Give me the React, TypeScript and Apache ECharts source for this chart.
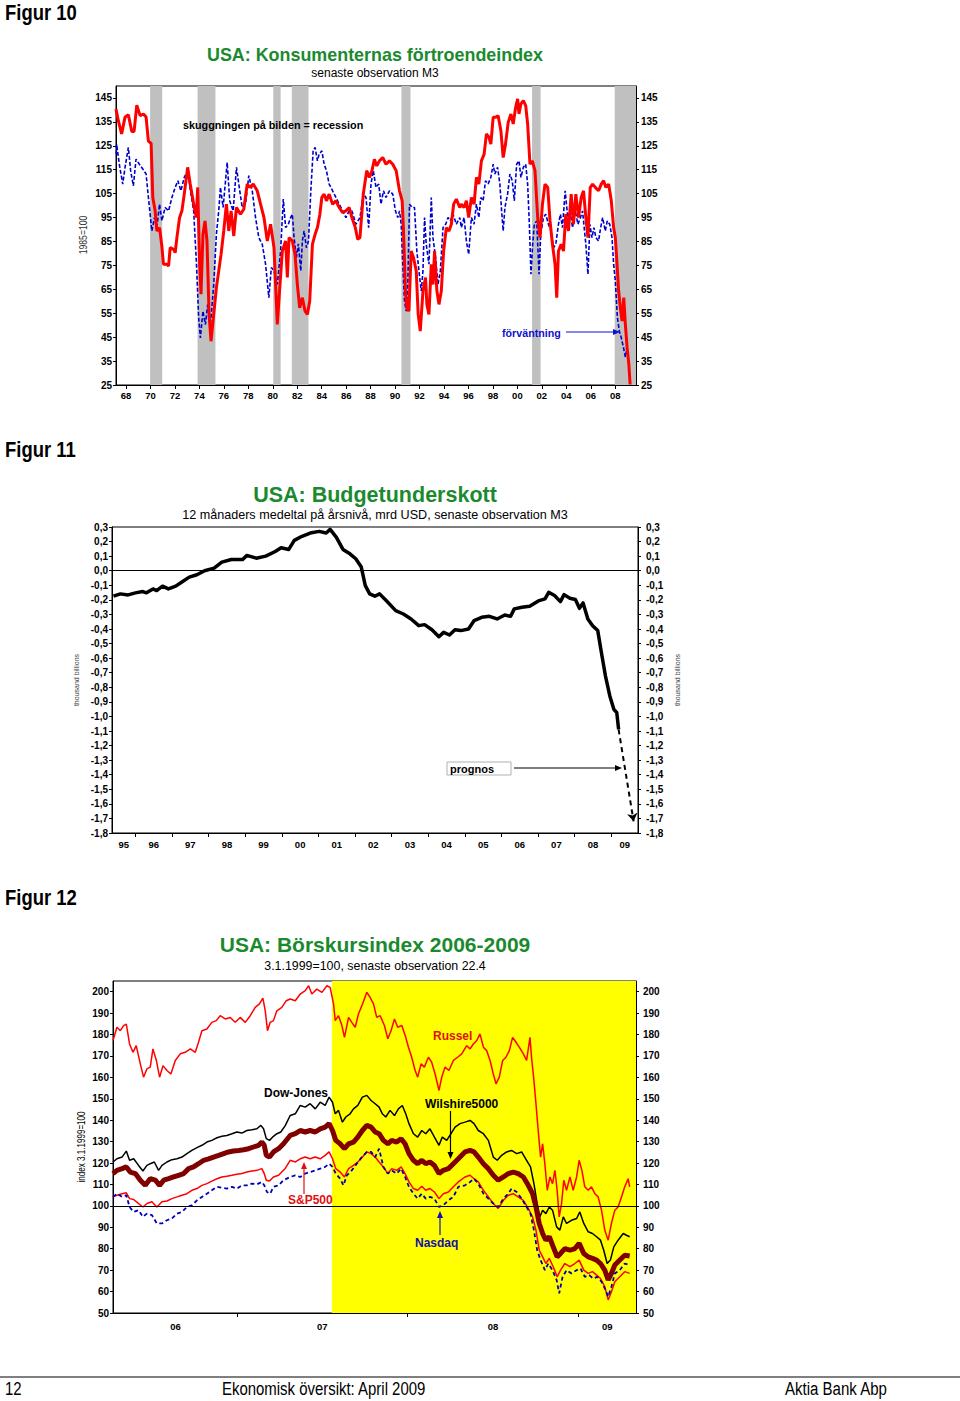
import { useEffect, useRef } from "react";
import * as echarts from "echarts";

const FONT = "'Liberation Sans', Arial, sans-serif";
const GREEN = "#1b8a2e";

// ---------- Figur 10 : consumer confidence ----------
const confYTicks = [25, 35, 45, 55, 65, 75, 85, 95, 105, 115, 125, 135, 145];
const confYearLabels = [1968, 1970, 1972, 1974, 1976, 1978, 1980, 1982, 1984, 1986, 1988, 1990, 1992, 1994, 1996, 1998, 2000, 2002, 2004, 2006, 2008];
const recessions = [
  [1969.97, 1970.96], [1973.85, 1975.31], [1980.04, 1980.64], [1981.55, 1982.92],
  [1990.52, 1991.26], [2001.2, 2001.9], [2007.96, 2009.7],
];
const confidenceIndex = [
  [1967.18, 140.4], [1967.37, 135.5], [1967.64, 130], [1967.92, 137], [1968.19, 138], [1968.47, 131], [1968.66, 131], [1968.88, 142],
  [1969.15, 137.6], [1969.42, 138.3], [1969.64, 137], [1969.83, 127], [1970.05, 126], [1970.19, 103.4], [1970.38, 97.8], [1970.52, 89.4],
  [1970.74, 90.8], [1970.93, 83], [1971.06, 75.5], [1971.34, 75.5], [1971.48, 74.7], [1971.61, 82.4], [1971.89, 81.7], [1972.02, 80.3],
  [1972.16, 86.6], [1972.38, 95], [1972.57, 97.8], [1972.76, 104.8], [1973.04, 116], [1973.25, 109], [1973.53, 100.6], [1973.75, 95],
  [1973.86, 107.6], [1974.02, 75.4], [1974.13, 63], [1974.29, 88], [1974.46, 93.6], [1974.62, 85.2], [1974.79, 54.5], [1974.95, 43.3],
  [1975.17, 54.5], [1975.39, 65.7], [1975.58, 72.7], [1975.77, 79.6], [1975.99, 89.4], [1976.21, 100.6], [1976.4, 89.4], [1976.59, 97.8],
  [1976.81, 87.3], [1977.03, 99.2], [1977.36, 96.4], [1977.63, 98.5], [1977.91, 109], [1978.13, 107.6], [1978.4, 109], [1978.73, 106.2],
  [1979.0, 100.6], [1979.28, 95], [1979.55, 85.2], [1979.82, 92.2], [1980.1, 82.4], [1980.37, 50.3], [1980.59, 67], [1980.78, 81],
  [1981.05, 85.2], [1981.19, 70], [1981.33, 86.6], [1981.6, 85.2], [1981.82, 79.6], [1982.01, 67], [1982.2, 57.3], [1982.42, 61.5],
  [1982.64, 55.9], [1982.83, 54.5], [1983.02, 60.1], [1983.24, 83.8], [1983.46, 88], [1983.65, 90.8], [1983.85, 96.4], [1984.01, 103.4],
  [1984.2, 104.8], [1984.39, 102], [1984.61, 104.8], [1984.89, 100.6], [1985.16, 102], [1985.43, 99.2], [1985.71, 97.1], [1985.98, 97.8],
  [1986.25, 99.2], [1986.47, 95], [1986.75, 90.8], [1986.94, 85.9], [1987.13, 86.6], [1987.4, 104.8], [1987.68, 114.6], [1987.9, 111.8],
  [1988.11, 114.6], [1988.31, 119.4], [1988.5, 116.6], [1988.72, 118.7], [1988.99, 120.1], [1989.26, 117.3], [1989.54, 118.7], [1989.81, 117.3],
  [1990.09, 114.6], [1990.36, 106.2], [1990.58, 102], [1990.69, 89.4], [1990.85, 64.3], [1990.96, 57.3], [1991.13, 55.9], [1991.32, 81],
  [1991.51, 78.2], [1991.73, 72.7], [1991.89, 54.5], [1992.06, 47.5], [1992.28, 64.3], [1992.49, 69.9], [1992.6, 58.7], [1992.77, 54.5],
  [1992.96, 75.5], [1993.1, 67], [1993.23, 81], [1993.42, 64.3], [1993.59, 58.7], [1993.78, 64.3], [1993.97, 81], [1994.19, 90.8],
  [1994.41, 89.4], [1994.6, 92.2], [1994.79, 100.6], [1995.01, 102.7], [1995.29, 99.2], [1995.42, 100.6], [1995.64, 99.2], [1995.83, 102],
  [1996.02, 95], [1996.24, 103.4], [1996.46, 100.6], [1996.65, 111.8], [1996.85, 109], [1997.06, 118.7], [1997.28, 121.5], [1997.47, 130],
  [1997.67, 128.6], [1997.83, 125.7], [1998.02, 136.9], [1998.21, 136.9], [1998.43, 137.6], [1998.65, 131.3], [1998.84, 120.1], [1999.03, 125.7],
  [1999.25, 134.8], [1999.47, 138.3], [1999.66, 134.1], [1999.86, 141.1], [2000.02, 144.6], [2000.13, 138.3], [2000.29, 142.5], [2000.49, 143.9],
  [2000.68, 141.8], [2000.84, 134.1], [2001.03, 117.3], [2001.22, 118.7], [2001.44, 114.6], [2001.66, 95], [2001.85, 86.6], [2002.05, 100.6],
  [2002.26, 109], [2002.48, 107.6], [2002.67, 93.6], [2002.87, 83.8], [2003.08, 75.5], [2003.22, 61.5], [2003.36, 81], [2003.58, 83.8],
  [2003.77, 81], [2003.96, 96.4], [2004.18, 89.4], [2004.4, 104.8], [2004.59, 92.2], [2004.78, 104.8], [2005.0, 95], [2005.22, 103.4],
  [2005.41, 106.2], [2005.6, 95], [2005.77, 86.6], [2005.96, 107.6], [2006.15, 109], [2006.37, 107.6], [2006.64, 106.2], [2006.86, 109],
  [2007.05, 110.4], [2007.24, 107.6], [2007.46, 109], [2007.68, 102], [2007.87, 90.8], [2008.01, 86.6], [2008.15, 75.5], [2008.28, 64.3],
  [2008.42, 57.3], [2008.56, 51.7], [2008.7, 61.5], [2008.83, 50.3], [2008.97, 40.8], [2009.11, 33.9], [2009.22, 25.2],
];
const expectationsIndex = [
  [1967.2, 121.5], [1967.23, 125.7], [1967.45, 117.3], [1967.73, 109], [1967.92, 116], [1968.19, 124.3], [1968.38, 114.5], [1968.6, 108.3],
  [1968.82, 119.4], [1969.09, 117.3], [1969.37, 115.3], [1969.64, 113.2], [1969.83, 103.4], [1970.11, 89.4], [1970.33, 95], [1970.52, 90.8],
  [1970.74, 100.6], [1970.93, 93.6], [1971.2, 99.2], [1971.48, 97.8], [1971.75, 103.4], [1972.02, 107.6], [1972.24, 110.4], [1972.49, 106.2],
  [1972.76, 111.8], [1973.04, 114.6], [1973.31, 104.8], [1973.53, 97.8], [1973.75, 76.8], [1973.94, 53.1], [1974.08, 44.7], [1974.29, 55.9],
  [1974.49, 50.3], [1974.68, 58.7], [1974.9, 50.3], [1975.17, 67], [1975.39, 88], [1975.58, 97.8], [1975.72, 107.6], [1975.94, 99.2],
  [1976.27, 118], [1976.48, 102], [1976.76, 97.8], [1977.03, 116], [1977.22, 109], [1977.5, 99.2], [1977.77, 100.6], [1978.04, 112.5],
  [1978.32, 106.2], [1978.59, 95], [1978.86, 86.6], [1979.14, 83.8], [1979.41, 75.5], [1979.68, 61.5], [1979.88, 74.1], [1980.1, 72.7],
  [1980.37, 67], [1980.64, 81], [1980.86, 102.7], [1981.05, 90.8], [1981.27, 92.2], [1981.46, 95], [1981.6, 96.4], [1981.74, 86.6],
  [1981.93, 78.2], [1982.09, 84], [1982.29, 72.7], [1982.42, 85.2], [1982.56, 89.4], [1982.75, 82.4], [1982.92, 85.2], [1983.11, 106.2],
  [1983.3, 122.9], [1983.46, 124.3], [1983.65, 118.7], [1983.79, 121.5], [1984.01, 122.9], [1984.2, 117.3], [1984.39, 114.6], [1984.61, 109],
  [1984.89, 106.2], [1985.16, 103.4], [1985.43, 100.6], [1985.71, 97.8], [1985.98, 95], [1986.25, 97.8], [1986.47, 97.8], [1986.8, 92.2],
  [1987.13, 95], [1987.4, 104.8], [1987.62, 103.4], [1987.84, 90.8], [1988.03, 109], [1988.22, 114.6], [1988.44, 107.6], [1988.66, 109],
  [1988.85, 100.6], [1989.05, 106.2], [1989.26, 103.4], [1989.54, 106.2], [1989.81, 104.8], [1990.03, 97.8], [1990.22, 95], [1990.36, 97.8],
  [1990.5, 92.2], [1990.63, 75.5], [1990.77, 60.1], [1990.91, 55.9], [1991.04, 67], [1991.18, 100.6], [1991.4, 99.2], [1991.59, 99.2],
  [1991.78, 81], [1991.95, 72.7], [1992.14, 64.3], [1992.28, 72.7], [1992.41, 95], [1992.55, 83.8], [1992.77, 75.5], [1992.96, 103.4],
  [1993.1, 86.6], [1993.31, 78.2], [1993.51, 67], [1993.7, 72.7], [1993.92, 90.8], [1994.14, 92.2], [1994.33, 95], [1994.52, 93.6],
  [1994.74, 96.4], [1995.01, 92.2], [1995.29, 95], [1995.42, 90.8], [1995.64, 95], [1995.83, 85.2], [1996.02, 79.6], [1996.24, 95],
  [1996.46, 92.2], [1996.65, 100.6], [1996.85, 95], [1997.01, 103.4], [1997.2, 102], [1997.39, 110.4], [1997.61, 109], [1997.83, 111.8],
  [1998.02, 117.3], [1998.16, 113.2], [1998.38, 116], [1998.57, 109], [1998.71, 97.8], [1998.84, 89.4], [1998.98, 99.2], [1999.2, 104.8],
  [1999.39, 113.2], [1999.58, 110.4], [1999.75, 102], [1999.94, 117.3], [2000.13, 118.7], [2000.29, 111.8], [2000.49, 116], [2000.68, 117.3],
  [2000.84, 109], [2000.98, 92.2], [2001.11, 71.3], [2001.25, 83.8], [2001.39, 92.2], [2001.58, 93.6], [2001.77, 71.3], [2001.91, 88],
  [2002.13, 95], [2002.32, 96.4], [2002.54, 92.2], [2002.76, 89.4], [2002.95, 82.4], [2003.14, 83.8], [2003.36, 92.2], [2003.52, 96.4],
  [2003.69, 90.8], [2003.91, 106.2], [2004.12, 95], [2004.32, 97.8], [2004.51, 90.8], [2004.73, 97.8], [2004.95, 92.2], [2005.16, 95],
  [2005.33, 97.8], [2005.49, 89.4], [2005.6, 83.8], [2005.77, 71.3], [2005.93, 92.2], [2006.1, 86.6], [2006.26, 90.8], [2006.42, 86.6],
  [2006.64, 85.2], [2006.81, 90.8], [2006.97, 95], [2007.19, 89.4], [2007.35, 93.6], [2007.55, 92.2], [2007.74, 86.6], [2007.87, 75.5],
  [2008.01, 68.5], [2008.18, 53.1], [2008.34, 47.5], [2008.5, 44.7], [2008.67, 40.8], [2008.83, 36.6], [2009.0, 42.2],
];

// ---------- Figur 11 : budget deficit ----------
const budgetYTicks = [-1.8, -1.7, -1.6, -1.5, -1.4, -1.3, -1.2, -1.1, -1.0, -0.9, -0.8, -0.7, -0.6, -0.5, -0.4, -0.3, -0.2, -0.1, 0.0, 0.1, 0.2, 0.3];
const budgetYearTicks = [1996, 1997, 1998, 1999, 2000, 2001, 2002, 2003, 2004, 2005, 2006, 2007, 2008, 2009];
const budgetYearLabels = [1995.68, 1996.5, 1997.5, 1998.5, 1999.5, 2000.5, 2001.5, 2002.5, 2003.5, 2004.5, 2005.5, 2006.5, 2007.5, 2008.5, 2009.37];
const budgetBalance = [
  [1995.4, -0.175], [1995.59, -0.159], [1995.8, -0.166], [1996.0, -0.152], [1996.2, -0.143], [1996.3, -0.152], [1996.48, -0.125], [1996.58, -0.136],
  [1996.74, -0.106], [1996.9, -0.125], [1997.1, -0.106], [1997.26, -0.079], [1997.47, -0.044], [1997.68, -0.028], [1997.89, 0.0], [1998.15, 0.018],
  [1998.36, 0.059], [1998.62, 0.077], [1998.93, 0.077], [1999.04, 0.105], [1999.3, 0.086], [1999.56, 0.1], [1999.82, 0.132], [1999.98, 0.158],
  [2000.19, 0.146], [2000.34, 0.208], [2000.55, 0.236], [2000.81, 0.261], [2001.02, 0.27], [2001.21, 0.259], [2001.32, 0.284], [2001.49, 0.229],
  [2001.67, 0.146], [2001.86, 0.116], [2002.02, 0.082], [2002.17, 0.025], [2002.28, -0.102], [2002.4, -0.159], [2002.54, -0.175], [2002.67, -0.159],
  [2002.85, -0.205], [2003.11, -0.274], [2003.32, -0.297], [2003.53, -0.331], [2003.74, -0.377], [2003.9, -0.37], [2004.1, -0.405], [2004.29, -0.453],
  [2004.42, -0.423], [2004.58, -0.441], [2004.73, -0.405], [2004.89, -0.411], [2005.1, -0.4], [2005.25, -0.343], [2005.46, -0.32], [2005.67, -0.313],
  [2005.88, -0.331], [2006.09, -0.304], [2006.25, -0.313], [2006.35, -0.262], [2006.56, -0.251], [2006.77, -0.244], [2007.03, -0.205], [2007.19, -0.193],
  [2007.29, -0.148], [2007.45, -0.17], [2007.61, -0.212], [2007.71, -0.164], [2007.87, -0.189], [2008.02, -0.198], [2008.13, -0.258], [2008.23, -0.221],
  [2008.36, -0.331], [2008.49, -0.377], [2008.63, -0.411], [2008.73, -0.561], [2008.84, -0.721], [2008.96, -0.859], [2009.07, -0.951], [2009.15, -0.974],
  [2009.2, -1.089],
];
const budgetForecast = [[2009.2, -1.089], [2009.61, -1.72]];

// ---------- Figur 12 : stock indices ----------
const stockYTicks = [50, 60, 70, 80, 90, 100, 110, 120, 130, 140, 150, 160, 170, 180, 190, 200];
const stockYearTicks = [2007, 2008, 2009];
const stockYearLabels = [2006.64, 2007.5, 2008.5, 2009.17];
const crisisStart = 2007.556;
const russell = [
  [2006.274, 177.2], [2006.297, 183.4], [2006.317, 181.8], [2006.336, 184.2], [2006.352, 184.9], [2006.371, 175.6], [2006.391, 171.7], [2006.41, 174.8],
  [2006.434, 166.3], [2006.453, 160.1], [2006.473, 164], [2006.492, 164.8], [2006.508, 173.3], [2006.528, 167.9], [2006.547, 160.1], [2006.567, 165.5],
  [2006.59, 163.2], [2006.613, 161.6], [2006.639, 167.9], [2006.668, 171], [2006.697, 171.7], [2006.727, 173.3], [2006.756, 171.7], [2006.775, 176.4],
  [2006.795, 181.8], [2006.824, 182.6], [2006.853, 185.7], [2006.879, 186.5], [2006.902, 188.8], [2006.932, 187.3], [2006.961, 188], [2006.99, 185.7],
  [2007.019, 188], [2007.049, 185.7], [2007.078, 188.8], [2007.107, 192.7], [2007.132, 194.3], [2007.152, 197], [2007.166, 191.1], [2007.179, 181.8],
  [2007.195, 185.7], [2007.214, 186.5], [2007.234, 191.1], [2007.263, 192.7], [2007.289, 195.8], [2007.312, 196.6], [2007.342, 195.8], [2007.371, 198.9],
  [2007.4, 200.5], [2007.42, 202.8], [2007.439, 198.9], [2007.468, 201.2], [2007.498, 199.7], [2007.527, 202.8], [2007.546, 202], [2007.566, 194.3],
  [2007.576, 186.5], [2007.595, 188.8], [2007.615, 184.2], [2007.63, 178.7], [2007.654, 188], [2007.673, 185.7], [2007.693, 183.4], [2007.712, 189.6],
  [2007.736, 194.3], [2007.761, 199.7], [2007.78, 197.4], [2007.8, 194.3], [2007.819, 188], [2007.839, 188.8], [2007.864, 184.2], [2007.884, 178],
  [2007.903, 181.8], [2007.923, 187.3], [2007.942, 183.4], [2007.966, 184.2], [2007.989, 178.7], [2008.005, 174.1], [2008.024, 169.4], [2008.044, 163.2],
  [2008.059, 160.1], [2008.079, 166.3], [2008.098, 164.8], [2008.122, 169.4], [2008.141, 167.1], [2008.161, 161.6], [2008.184, 153.9], [2008.2, 160.1],
  [2008.219, 164.8], [2008.242, 163.2], [2008.268, 167.9], [2008.293, 169.4], [2008.317, 171], [2008.346, 174.8], [2008.366, 173.3], [2008.385, 175.6],
  [2008.405, 177.2], [2008.424, 180.3], [2008.444, 174.1], [2008.463, 172.5], [2008.483, 167.9], [2008.502, 161.6], [2008.518, 157], [2008.537, 160.1],
  [2008.557, 167.9], [2008.576, 169.4], [2008.596, 172.5], [2008.615, 178.7], [2008.635, 176.4], [2008.654, 174.1], [2008.678, 171], [2008.697, 167.9],
  [2008.717, 178.7], [2008.726, 169.4], [2008.74, 158.5], [2008.752, 147.7], [2008.765, 135.2], [2008.779, 122.8], [2008.791, 129], [2008.804, 119.7],
  [2008.818, 107.3], [2008.834, 113.5], [2008.849, 110.4], [2008.863, 116.6], [2008.876, 107.3], [2008.888, 94.9], [2008.902, 101.1], [2008.915, 112],
  [2008.931, 107.3], [2008.951, 113.5], [2008.97, 107.3], [2008.99, 113.5], [2009.005, 121.3], [2009.021, 116.6], [2009.038, 108.9], [2009.058, 107.3],
  [2009.077, 108.9], [2009.097, 105.7], [2009.116, 104.2], [2009.136, 98], [2009.155, 88.7], [2009.175, 84], [2009.194, 91.8], [2009.214, 98],
  [2009.233, 99.5], [2009.253, 104.2], [2009.272, 108.9], [2009.292, 112.7], [2009.301, 108.9],
];
const dowJones = [
  [2006.274, 120.5], [2006.297, 122], [2006.327, 122.8], [2006.352, 125.6], [2006.371, 121.3], [2006.395, 122], [2006.424, 118.9], [2006.449, 116.3],
  [2006.473, 118.9], [2006.492, 119.7], [2006.516, 120.5], [2006.541, 116.6], [2006.561, 118.9], [2006.59, 120.5], [2006.619, 121.6], [2006.649, 122],
  [2006.678, 122.8], [2006.707, 124.4], [2006.736, 125.9], [2006.766, 127.2], [2006.795, 128.3], [2006.824, 129.8], [2006.853, 130.6], [2006.883, 131.8],
  [2006.912, 132.5], [2006.941, 132.9], [2006.971, 133.7], [2007.0, 134.5], [2007.029, 134], [2007.058, 135.2], [2007.088, 135.6], [2007.117, 136],
  [2007.14, 137.6], [2007.156, 136], [2007.172, 131.4], [2007.191, 130.6], [2007.214, 132.5], [2007.234, 133.7], [2007.257, 134.5], [2007.283, 137.5],
  [2007.312, 142.2], [2007.342, 143], [2007.371, 146.9], [2007.4, 146.1], [2007.429, 147.7], [2007.459, 145.3], [2007.488, 148.4], [2007.517, 146.9],
  [2007.54, 150.8], [2007.56, 148.4], [2007.576, 143], [2007.595, 144.6], [2007.618, 139.1], [2007.638, 141.5], [2007.663, 143], [2007.683, 145.3],
  [2007.708, 146.9], [2007.735, 150.8], [2007.761, 151.6], [2007.786, 149.2], [2007.81, 147.7], [2007.833, 146.1], [2007.852, 143], [2007.872, 141.5],
  [2007.897, 144.6], [2007.923, 142.2], [2007.946, 145.3], [2007.969, 146.9], [2007.989, 143], [2008.008, 138.4], [2008.034, 133.7], [2008.059, 132.1],
  [2008.083, 135.2], [2008.106, 133.7], [2008.131, 136], [2008.157, 132.1], [2008.184, 128.3], [2008.203, 132.1], [2008.229, 130.6], [2008.254, 133.7],
  [2008.278, 136.8], [2008.307, 138.4], [2008.336, 139.1], [2008.366, 139.9], [2008.389, 138.4], [2008.414, 135.2], [2008.444, 133.7], [2008.473, 130.6],
  [2008.502, 122.8], [2008.525, 121.3], [2008.551, 123.6], [2008.58, 125.2], [2008.609, 125.9], [2008.639, 124.4], [2008.668, 125.2], [2008.697, 121.3],
  [2008.72, 118.2], [2008.74, 110.4], [2008.759, 101.1], [2008.775, 94.9], [2008.791, 98], [2008.81, 96.4], [2008.83, 99.5], [2008.849, 98],
  [2008.873, 90.2], [2008.892, 88.7], [2008.912, 94.9], [2008.931, 91.8], [2008.96, 93.3], [2008.99, 94.1], [2009.009, 97.2], [2009.032, 91.8],
  [2009.058, 87.9], [2009.083, 87.1], [2009.107, 85.6], [2009.13, 84], [2009.149, 79.3], [2009.169, 73.1], [2009.188, 74.7], [2009.208, 80.9],
  [2009.233, 84], [2009.263, 87.1], [2009.282, 86.3], [2009.301, 85.6],
];
const wilshire5000 = [
  [2006.274, 115.1], [2006.297, 116.6], [2006.327, 117.4], [2006.352, 118.2], [2006.375, 115.8], [2006.405, 115.1], [2006.434, 112], [2006.463, 109.6],
  [2006.492, 112.7], [2006.522, 112], [2006.547, 109.6], [2006.571, 112], [2006.6, 112.7], [2006.629, 113.5], [2006.658, 114.3], [2006.688, 115.1],
  [2006.717, 117.4], [2006.746, 118.2], [2006.775, 119.7], [2006.805, 121.3], [2006.834, 122], [2006.863, 122.8], [2006.893, 123.6], [2006.922, 124.4],
  [2006.951, 125.2], [2006.98, 125.6], [2007.01, 125.9], [2007.039, 126.2], [2007.068, 126.7], [2007.097, 127.5], [2007.127, 128.3], [2007.146, 129.8],
  [2007.16, 128.3], [2007.172, 123.6], [2007.191, 122.8], [2007.214, 125.2], [2007.244, 126.7], [2007.273, 129], [2007.312, 132.9], [2007.342, 133.7],
  [2007.371, 135.2], [2007.4, 134.5], [2007.429, 135.2], [2007.459, 134.5], [2007.488, 136], [2007.517, 136.8], [2007.54, 138.4], [2007.56, 135.2],
  [2007.579, 130.6], [2007.605, 129], [2007.63, 126.7], [2007.654, 129], [2007.683, 129.8], [2007.708, 132.1], [2007.735, 135.2], [2007.761, 137.6],
  [2007.786, 136.8], [2007.81, 134.5], [2007.833, 133.7], [2007.858, 130.6], [2007.884, 129], [2007.907, 130.6], [2007.936, 129.8], [2007.962, 131.4],
  [2007.985, 129], [2008.008, 124.4], [2008.034, 121.3], [2008.059, 119.7], [2008.083, 121.3], [2008.106, 119.7], [2008.131, 120.5], [2008.157, 118.9],
  [2008.184, 115.1], [2008.209, 116.6], [2008.239, 117.4], [2008.268, 119.7], [2008.297, 122], [2008.336, 125.2], [2008.366, 125.9], [2008.389, 125.2],
  [2008.414, 122.8], [2008.444, 119.7], [2008.473, 117.4], [2008.502, 114.3], [2008.531, 112], [2008.561, 113.5], [2008.59, 115.1], [2008.619, 115.8],
  [2008.648, 115.1], [2008.678, 113.5], [2008.707, 109.6], [2008.732, 105.7], [2008.752, 99.5], [2008.771, 91.8], [2008.791, 87.1], [2008.81, 84],
  [2008.83, 85.6], [2008.853, 80.9], [2008.876, 76.2], [2008.896, 77.8], [2008.921, 80.1], [2008.951, 79.3], [2008.98, 80.1], [2009.005, 82.5],
  [2009.032, 77.8], [2009.058, 76.2], [2009.083, 75.5], [2009.107, 74.7], [2009.13, 73.1], [2009.155, 70], [2009.175, 65.4], [2009.194, 68.5],
  [2009.214, 72.4], [2009.243, 74.7], [2009.272, 77], [2009.301, 76.6],
];
const sp500 = [
  [2006.274, 104.2], [2006.297, 105], [2006.327, 105.7], [2006.352, 106.1], [2006.371, 103.4], [2006.395, 103], [2006.424, 101.1], [2006.449, 99.5],
  [2006.473, 101.1], [2006.502, 101.9], [2006.531, 99.5], [2006.561, 101.9], [2006.59, 102.3], [2006.619, 103.4], [2006.649, 104.2], [2006.678, 105],
  [2006.707, 105.7], [2006.736, 107.3], [2006.766, 108.1], [2006.795, 109.6], [2006.824, 110.4], [2006.853, 111.6], [2006.883, 112.7], [2006.912, 113.5],
  [2006.941, 113.8], [2006.971, 114.3], [2007.0, 114.8], [2007.029, 115.1], [2007.058, 115.8], [2007.088, 116.3], [2007.117, 116.6], [2007.146, 117.4],
  [2007.16, 115.1], [2007.172, 112], [2007.191, 111.6], [2007.214, 113.5], [2007.244, 114.3], [2007.283, 117.5], [2007.312, 121.3], [2007.342, 120.5],
  [2007.371, 122], [2007.4, 122.8], [2007.429, 122], [2007.459, 122.8], [2007.488, 122], [2007.517, 123.6], [2007.54, 125.2], [2007.56, 122],
  [2007.579, 117.4], [2007.605, 115.8], [2007.63, 113.5], [2007.654, 117.4], [2007.683, 118.9], [2007.708, 120.5], [2007.735, 122.8], [2007.761, 125.2],
  [2007.786, 124.4], [2007.81, 122.8], [2007.833, 120.5], [2007.858, 118.2], [2007.884, 115.1], [2007.907, 117.4], [2007.936, 116.6], [2007.962, 118.2],
  [2007.985, 115.1], [2008.008, 111.2], [2008.034, 108.1], [2008.059, 107.3], [2008.083, 109.2], [2008.106, 107.3], [2008.131, 108.1], [2008.157, 106.5],
  [2008.184, 103.4], [2008.209, 105.7], [2008.239, 106.5], [2008.268, 108.9], [2008.297, 111.2], [2008.336, 113.5], [2008.366, 114.3], [2008.389, 112.7],
  [2008.414, 111.2], [2008.444, 107.3], [2008.473, 104.2], [2008.502, 101.1], [2008.531, 98.8], [2008.561, 102.6], [2008.59, 105], [2008.619, 105.7],
  [2008.648, 104.2], [2008.678, 102.6], [2008.707, 98.8], [2008.732, 94.9], [2008.752, 88.7], [2008.771, 79.3], [2008.791, 76.2], [2008.81, 73.1],
  [2008.83, 75.5], [2008.853, 71.6], [2008.876, 66.9], [2008.896, 70], [2008.921, 73.1], [2008.951, 71.6], [2008.98, 73.1], [2009.005, 74.7],
  [2009.032, 70], [2009.058, 68.5], [2009.083, 69.3], [2009.107, 67.7], [2009.13, 66.1], [2009.155, 62.3], [2009.175, 56.1], [2009.194, 59.9],
  [2009.214, 64.6], [2009.243, 66.9], [2009.272, 69.3], [2009.301, 68.5],
];
const nasdaq = [
  [2006.274, 104.2], [2006.297, 105.7], [2006.327, 104.2], [2006.352, 105], [2006.371, 99.5], [2006.395, 97.2], [2006.424, 98], [2006.449, 94.9],
  [2006.473, 96.4], [2006.502, 95.7], [2006.531, 91.8], [2006.561, 91.8], [2006.59, 93.3], [2006.619, 94.1], [2006.649, 96.4], [2006.678, 97.2],
  [2006.707, 99.5], [2006.736, 100.3], [2006.766, 102.6], [2006.795, 104.2], [2006.824, 105.7], [2006.853, 107.3], [2006.883, 108.9], [2006.912, 108.5],
  [2006.941, 108.1], [2006.971, 108.9], [2007.0, 108.1], [2007.029, 109.6], [2007.058, 109.6], [2007.088, 110.4], [2007.117, 110.1], [2007.146, 111.2],
  [2007.16, 109.6], [2007.176, 106.5], [2007.195, 105.7], [2007.214, 108.9], [2007.244, 109.6], [2007.273, 112], [2007.312, 113.5], [2007.342, 114.3],
  [2007.371, 113.5], [2007.4, 115.1], [2007.429, 115.8], [2007.459, 116.6], [2007.488, 117.4], [2007.517, 118.2], [2007.54, 119.7], [2007.56, 118.2],
  [2007.579, 115.1], [2007.605, 112.7], [2007.624, 109.6], [2007.644, 114.3], [2007.673, 116.6], [2007.702, 119.7], [2007.732, 122.8], [2007.761, 125.2],
  [2007.786, 125.2], [2007.81, 122.8], [2007.833, 126.7], [2007.858, 118.2], [2007.884, 115.1], [2007.907, 116.6], [2007.936, 115.1], [2007.962, 117.4],
  [2007.985, 113.5], [2008.008, 108.9], [2008.034, 105.7], [2008.059, 103.4], [2008.083, 105.7], [2008.106, 103.4], [2008.131, 104.2], [2008.157, 103.4],
  [2008.184, 99.5], [2008.209, 100.3], [2008.239, 102.6], [2008.268, 104.2], [2008.297, 108.9], [2008.336, 109.6], [2008.366, 111.2], [2008.389, 112.7],
  [2008.414, 110.4], [2008.444, 105.7], [2008.473, 103.4], [2008.502, 101.1], [2008.531, 99.5], [2008.561, 103.4], [2008.59, 105.7], [2008.609, 108.1],
  [2008.639, 106.5], [2008.668, 103.4], [2008.697, 99.5], [2008.72, 96.4], [2008.74, 88.7], [2008.759, 79.3], [2008.779, 74.7], [2008.804, 70],
  [2008.824, 73.1], [2008.849, 70], [2008.873, 65.4], [2008.888, 59.2], [2008.908, 66.9], [2008.931, 70], [2008.96, 68.5], [2008.99, 70],
  [2009.013, 70.8], [2009.038, 66.9], [2009.064, 67.7], [2009.087, 66.1], [2009.111, 66.9], [2009.136, 64.6], [2009.155, 61.5], [2009.175, 57.6],
  [2009.194, 62.3], [2009.214, 68.5], [2009.243, 70], [2009.272, 73.1], [2009.301, 72.4],
];

const twoDigit = (v: number) => String(Math.floor(v + 1e-6) % 100).padStart(2, "0");
const commaFmt = (v: number) => (Math.abs(v) < 1e-9 ? 0 : v).toFixed(1).replace(".", ",");

function xAxis(grid: number, min: number, max: number, ticks: number[], labels: number[], margin: number) {
  return {
    type: "value", gridIndex: grid, min, max, position: "bottom",
    axisLine: { show: true, onZero: false, lineStyle: { color: "#000", width: 1 } },
    axisTick: { show: true, customValues: ticks, length: 4, lineStyle: { color: "#000" } },
    axisLabel: { customValues: labels, formatter: twoDigit, fontSize: 9.5, fontWeight: "bold", color: "#000", fontFamily: FONT, margin },
    splitLine: { show: false },
  };
}
function yAxis(grid: number, min: number, max: number, ticks: number[], side: string, fmt: any, margin: number, extra: any = {}) {
  return {
    type: "value", gridIndex: grid, min, max, position: side,
    axisLine: { show: true, onZero: false, lineStyle: { color: "#000", width: 1 } },
    axisTick: { show: true, customValues: ticks, length: 3, lineStyle: { color: "#000" } },
    axisLabel: { customValues: ticks, formatter: fmt, fontSize: 10, fontWeight: "bold", color: "#000", fontFamily: FONT, margin },
    splitLine: { show: false },
    ...extra,
  };
}

function txt(text: string, x: number, y: number, font: string, fill = "#000", align = "left", extra: any = {}) {
  return {
    type: "text", z: 100, x, y, ...extra,
    style: { text, font, fill, align, verticalAlign: "middle", textAlign: align, textVerticalAlign: "middle" },
  };
}
function arrow(x1: number, y1: number, x2: number, y2: number, color: string, width = 1.2) {
  const ang = Math.atan2(y2 - y1, x2 - x1);
  const L = 7, W = 3;
  const bx = x2 - L * Math.cos(ang), by = y2 - L * Math.sin(ang);
  const px = -Math.sin(ang) * W, py = Math.cos(ang) * W;
  return [
    { type: "line", z: 100, shape: { x1, y1, x2: bx, y2: by }, style: { stroke: color, lineWidth: width } },
    { type: "polygon", z: 100, shape: { points: [[x2, y2], [bx + px, by + py], [bx - px, by - py]] }, style: { fill: color } },
  ];
}

export default function App() {
  const ref = useRef<HTMLDivElement>(null);
  useEffect(() => {
    if (!ref.current) return;
    const chart = echarts.init(ref.current, null, { renderer: "svg" });
    const nameStyle = (size: number, color = "#222") => ({ fontFamily: FONT, fontSize: size, color });
    const option: any = {
      animation: false,
      backgroundColor: "#fff",
      textStyle: { fontFamily: FONT },
      grid: [
        { left: 116, top: 86, width: 520, height: 299, show: true, borderColor: "#000", borderWidth: 1 },
        { left: 112, top: 527, width: 526, height: 306, show: true, borderColor: "#000", borderWidth: 1 },
        { left: 113, top: 981, width: 523, height: 332, show: true, borderColor: "#000", borderWidth: 1 },
      ],
      xAxis: [
        xAxis(0, 1967.18, 2009.7, confYearLabels, confYearLabels, 5),
        xAxis(1, 1995.36, 2009.73, budgetYearTicks, budgetYearLabels, 6),
        xAxis(2, 2006.274, 2009.338, stockYearTicks, stockYearLabels, 8),
      ],
      yAxis: [
        yAxis(0, 25, 150, confYTicks, "left", (v: number) => String(v), 4),
        yAxis(0, 25, 150, confYTicks, "right", (v: number) => String(v), 5),
        yAxis(1, -1.8, 0.3, budgetYTicks, "left", commaFmt, 4, {
          name: "thousand billions", nameLocation: "middle", nameGap: 30, nameRotate: 90, nameTextStyle: nameStyle(7, "#444"),
        }),
        yAxis(1, -1.8, 0.3, budgetYTicks, "right", commaFmt, 8, {
          name: "thousand billions", nameLocation: "middle", nameGap: 28, nameRotate: 90, nameTextStyle: nameStyle(7, "#444"),
        }),
        yAxis(2, 50, 205, stockYTicks, "left", (v: number) => String(v), 4),
        yAxis(2, 50, 205, stockYTicks, "right", (v: number) => String(v), 7),
      ],
      series: [
        // Figur 10
        {
          type: "line", xAxisIndex: 0, yAxisIndex: 0, data: [], silent: true,
          markArea: { silent: true, itemStyle: { color: "#c0c0c0" }, data: recessions.map((r) => [{ xAxis: r[0] }, { xAxis: r[1] }]) },
        },
        {
          name: "förväntning", type: "line", xAxisIndex: 0, yAxisIndex: 0, data: expectationsIndex, showSymbol: false, z: 3,
          lineStyle: { color: "#0000cc", width: 1.6, type: [4, 2] },
        },
        {
          name: "Konsumenternas förtroendeindex", type: "line", xAxisIndex: 0, yAxisIndex: 0, data: confidenceIndex, showSymbol: false, z: 4,
          lineStyle: { color: "#ff0000", width: 3 },
        },
        // Figur 11
        {
          type: "line", xAxisIndex: 1, yAxisIndex: 2, data: [], silent: true,
          markLine: { silent: true, symbol: "none", label: { show: false }, lineStyle: { color: "#000", width: 1, type: "solid" }, data: [{ yAxis: 0 }] },
        },
        {
          name: "Budgetunderskott", type: "line", xAxisIndex: 1, yAxisIndex: 2, data: budgetBalance, showSymbol: false, z: 4,
          lineStyle: { color: "#000", width: 3.5, join: "round" },
          markLine: {
            silent: true, symbol: ["none", "arrow"], symbolSize: 8, label: { show: false },
            lineStyle: { color: "#000", width: 2, type: [5, 4] },
            data: [[{ coord: budgetForecast[0] }, { coord: budgetForecast[1] }]],
          },
        },
        // Figur 12
        {
          type: "line", xAxisIndex: 2, yAxisIndex: 4, data: [], silent: true,
          markArea: { silent: true, itemStyle: { color: "#ffff00" }, data: [[{ xAxis: crisisStart }, { xAxis: 2009.338 }]] },
          markLine: { silent: true, symbol: "none", label: { show: false }, lineStyle: { color: "#000", width: 1.2, type: "solid" }, data: [{ yAxis: 100 }] },
        },
        { name: "Russel", type: "line", xAxisIndex: 2, yAxisIndex: 4, data: russell, showSymbol: false, z: 3, lineStyle: { color: "#ff0000", width: 1.5 } },
        { name: "Dow-Jones", type: "line", xAxisIndex: 2, yAxisIndex: 4, data: dowJones, showSymbol: false, z: 3, lineStyle: { color: "#000", width: 1.5 } },
        { name: "Wilshire5000", type: "line", xAxisIndex: 2, yAxisIndex: 4, data: wilshire5000, showSymbol: false, z: 3, lineStyle: { color: "#800000", width: 5 } },
        { name: "S&P500", type: "line", xAxisIndex: 2, yAxisIndex: 4, data: sp500, showSymbol: false, z: 4, lineStyle: { color: "#ff0000", width: 1.5 } },
        { name: "Nasdaq", type: "line", xAxisIndex: 2, yAxisIndex: 4, data: nasdaq, showSymbol: false, z: 5, lineStyle: { color: "#0000bb", width: 1.8, type: [4, 3] } },
      ],
      graphic: [
        txt("Figur 10", 5, 12, `bold 22px ${FONT}`, "#000", "left", { scaleX: 0.84 }),
        txt("Figur 11", 5, 449, `bold 22px ${FONT}`, "#000", "left", { scaleX: 0.84 }),
        txt("Figur 12", 5, 897, `bold 22px ${FONT}`, "#000", "left", { scaleX: 0.84 }),
        txt("USA: Konsumenternas förtroendeindex", 375, 55, `bold 17.9px ${FONT}`, GREEN, "center"),
        txt("senaste observation M3", 375, 73, `12px ${FONT}`, "#000", "center"),
        txt("USA: Budgetunderskott", 375, 495, `bold 21.5px ${FONT}`, GREEN, "center"),
        txt("12 månaders medeltal på årsnivå, mrd USD, senaste observation M3", 375, 515, `12.6px ${FONT}`, "#000", "center"),
        txt("USA: Börskursindex 2006-2009", 375, 944, `bold 21px ${FONT}`, GREEN, "center"),
        txt("3.1.1999=100, senaste observation 22.4", 375, 966, `12.4px ${FONT}`, "#000", "center"),
        // rotated axis titles
        txt("1985=100", 83, 235, `10.5px ${FONT}`, "#333", "center", { rotation: Math.PI / 2, scaleX: 0.82 }),
        txt("index 3.1.1999=100", 82, 1147, `10.5px ${FONT}`, "#000", "center", { rotation: Math.PI / 2, scaleX: 0.77 }),
        // Fig 10 annotations
        txt("skuggningen på bilden = recession", 183, 125, `bold 10.8px ${FONT}`),
        txt("förväntning", 502, 333, `bold 10.7px ${FONT}`, "#1010cc"),
        ...arrow(566, 332, 620, 332, "#1010cc"),
        // Fig 11 annotations
        { type: "rect", z: 99, shape: { x: 447, y: 762, width: 64, height: 13 }, style: { fill: "#fff", stroke: "#b0b0b0", lineWidth: 1 } },
        txt("prognos", 450, 769, `bold 11px ${FONT}`),
        ...arrow(514, 768, 622, 768, "#000"),
        // Fig 12 annotations
        txt("Russel", 433, 1036, `bold 12px ${FONT}`, "#e01010"),
        txt("Dow-Jones", 264, 1093, `bold 12px ${FONT}`),
        txt("Wilshire5000", 425, 1104, `bold 12px ${FONT}`),
        ...arrow(450.5, 1111, 450.5, 1159, "#000"),
        txt("S&P500", 288, 1200, `bold 12px ${FONT}`, "#e01010"),
        ...arrow(304, 1194, 304, 1162, "#e01010"),
        txt("Nasdaq", 415, 1243, `bold 12px ${FONT}`, "#1010aa"),
        ...arrow(440, 1235, 440, 1211, "#1010aa"),
        // footer
        { type: "line", z: 100, shape: { x1: 0, y1: 1377, x2: 960, y2: 1377 }, style: { stroke: "#000", lineWidth: 1 } },
        txt("12", 5, 1389, `18px ${FONT}`, "#000", "left", { scaleX: 0.83 }),
        txt("Ekonomisk översikt: April 2009", 222, 1389, `18px ${FONT}`, "#000", "left", { scaleX: 0.83 }),
        txt("Aktia Bank Abp", 785, 1389, `18px ${FONT}`, "#000", "left", { scaleX: 0.835 }),
      ],
    };
    chart.setOption(option);
    return () => chart.dispose();
  }, []);
  return <div ref={ref} style={{ position: "absolute", left: 0, top: 0, width: 960, height: 1401, background: "#fff" }} />;
}
